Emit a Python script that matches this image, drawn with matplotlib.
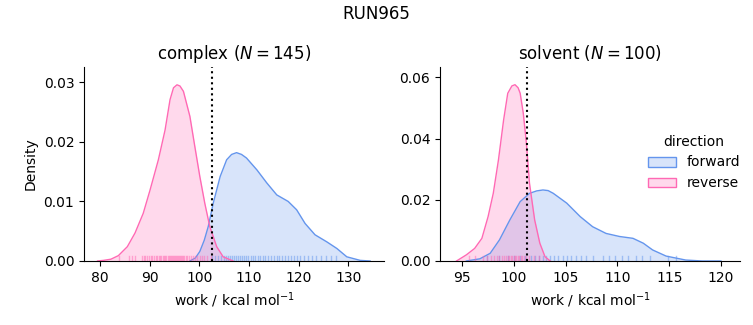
import matplotlib
matplotlib.use("Agg")
import matplotlib.pyplot as plt
import matplotlib.patches as patches

# density curves (work in kcal/mol, density)
complex_fwd_x = [98.1, 99.2, 100.1, 101.0, 101.8, 102.8, 104.2, 105.5, 106.5, 107.5, 108.5, 109.5, 111.6,
                 113.6, 115.6, 117.9, 119.6, 121.3, 123.3, 125.7, 127.7, 129.7, 132.4, 134.4]
complex_fwd_y = [0.0, 0.0005, 0.0016, 0.0035, 0.0058, 0.0097, 0.0142, 0.0170, 0.0179, 0.0182, 0.0179, 0.0173, 0.0153,
                 0.0131, 0.0111, 0.0100, 0.0086, 0.0063, 0.0044, 0.0032, 0.0021, 0.0007, 0.0001, 0.0]
complex_rev_x = [79.5, 80.7, 82.2, 83.7, 85.5, 87.05, 88.7, 90.07, 91.75, 93.1, 94.1, 94.8, 95.5, 96.1,
                 96.8, 98.1, 99.1, 100.1, 101.1, 102.1, 103.5, 104.8, 106.8]
complex_rev_y = [0.0, 0.0001, 0.0003, 0.0009, 0.0024, 0.0047, 0.0080, 0.0119, 0.0170, 0.0220, 0.0271, 0.0291, 0.0296, 0.0294,
                 0.0285, 0.0243, 0.0192, 0.0142, 0.0097, 0.0058, 0.0024, 0.0007, 0.0]

solvent_fwd_x = [95.4, 96.7, 97.7, 98.6, 99.6, 100.6, 101.5, 102.2, 102.8, 103.3, 103.8, 105.1, 106.4,
                 107.6, 108.9, 110.2, 111.5, 112.5, 113.4, 114.7, 116.6, 118.2, 120.0]
solvent_fwd_y = [0.0, 0.0007, 0.0025, 0.0069, 0.0134, 0.0194, 0.0221, 0.0229, 0.0232, 0.0230, 0.0221, 0.0189, 0.0145,
                 0.0112, 0.0090, 0.0080, 0.0074, 0.0058, 0.0036, 0.0016, 0.0003, 0.0, 0.0]
solvent_rev_x = [94.45, 95.4, 96.2, 96.9, 97.5, 98.0, 98.5, 99.0, 99.4, 99.8, 100.1, 100.4, 100.6,
                 100.9, 101.2, 101.5, 102.0, 102.5, 103.0, 103.5]
solvent_rev_y = [0.0, 0.0020, 0.0041, 0.0074, 0.0145, 0.0221, 0.0330, 0.0461, 0.0548, 0.0572, 0.0576, 0.0566, 0.0548,
                 0.0483, 0.0385, 0.0254, 0.0134, 0.0058, 0.0014, 0.0]

# individual work values (rug)
complex_fwd_rug = [102.6, 103.2, 103.8, 104.3, 104.9, 105.3, 105.8, 106.2, 106.6, 107.0, 107.4, 107.8,
                   108.2, 108.6, 109.0, 109.5, 109.9, 110.4, 110.8, 111.3, 111.8, 112.3, 112.8, 113.3,
                   113.9, 114.4, 115.0, 115.6, 116.1, 116.7, 117.2, 117.8, 118.4, 119.0, 119.6, 120.3,
                   121.0, 121.8, 122.6, 123.5, 124.5, 125.6, 126.6, 127.5]
complex_rev_rug = [83.9, 85.9, 86.4, 87.0, 88.5, 88.8, 89.1, 89.4, 89.8, 90.2, 90.5, 90.9, 91.2, 91.5,
                   91.8, 92.0, 92.3, 92.6, 92.8, 93.1, 93.3, 93.6, 93.8, 94.0, 94.2, 94.5, 94.7, 94.9,
                   95.1, 95.3, 95.5, 95.7, 95.9, 96.1, 96.3, 96.5, 96.8, 97.0, 97.3, 97.6, 97.9, 98.3,
                   98.7, 99.2, 99.6, 100.1, 100.6, 101.0, 101.6, 102.3]
solvent_fwd_rug = [97.4, 98.6, 99.4, 100.0, 100.6, 101.1, 101.6, 102.0, 102.4, 102.8, 103.1, 103.5,
                   103.9, 104.3, 104.7, 105.1, 105.5, 106.0, 106.5, 107.0, 107.6, 108.6, 109.2, 109.8,
                   110.4, 111.0, 111.8, 112.4, 113.1, 114.9, 115.7]
solvent_rev_rug = [95.7, 96.2, 97.0, 97.4, 97.8, 98.1, 98.4, 98.6, 98.8, 99.0, 99.2, 99.4, 99.5, 99.7,
                   99.8, 100.0, 100.1, 100.2, 100.4, 100.5, 100.7, 100.8, 101.0, 101.2, 101.5, 101.9, 102.4]

phases = ["complex", "solvent"]
n_samples = [145, 100]
dg = [102.6, 101.3]   # dotted reference line
directions = ["forward", "reverse"]
colors = {"forward": "#6495ED", "reverse": "#FF69B4"}

curves = {
    "complex": {"forward": (complex_fwd_x, complex_fwd_y, complex_fwd_rug),
                "reverse": (complex_rev_x, complex_rev_y, complex_rev_rug)},
    "solvent": {"forward": (solvent_fwd_x, solvent_fwd_y, solvent_fwd_rug),
                "reverse": (solvent_rev_x, solvent_rev_y, solvent_rev_rug)},
}

fig = plt.figure(figsize=(7.53, 3.25), dpi=100)
ax1 = fig.add_axes([0.1116, 0.197, 0.3984, 0.597])
ax2 = fig.add_axes([0.5843, 0.197, 0.3984, 0.597])
axes = [ax1, ax2]

xlims = [(76.78, 137.2), (92.85, 121.84)]
ylims = [(0, 0.0326), (0, 0.0634)]
yticks = [[0.0, 0.01, 0.02, 0.03], [0.0, 0.02, 0.04, 0.06]]
xticks = [[80, 90, 100, 110, 120, 130], [95, 100, 105, 110, 115, 120]]

for i, (ax, phase) in enumerate(zip(axes, phases)):
    for d in directions:
        x, y, rug = curves[phase][d]
        c = colors[d]
        ax.fill_between(x, y, 0, color=c, alpha=0.25, lw=0)
        ax.plot(x, y, color=c, lw=1)
        for r in rug:
            ax.axvline(r, ymin=0, ymax=0.025, color=c, lw=1, alpha=0.5)
    ax.axvline(dg[i], color="black", ls=":", lw=1.5)
    ax.set_xlim(*xlims[i])
    ax.set_ylim(*ylims[i])
    ax.set_xticks(xticks[i])
    ax.set_yticks(yticks[i])
    ax.set_xlabel("work / kcal mol$^{-1}$")
    ax.set_title(f"{phase} ($N = {n_samples[i]}$)", fontsize=12)
    ax.spines["top"].set_visible(False)
    ax.spines["right"].set_visible(False)

ax1.set_ylabel("Density")
fig.suptitle("RUN965", fontsize=12, y=0.985)

handles = [patches.Patch(facecolor=matplotlib.colors.to_rgba(colors[d], 0.25), edgecolor=colors[d])
           for d in directions]
leg = fig.legend(handles, directions, title="direction", loc="center right",
                 bbox_to_anchor=(1.0, 0.5), frameon=False)

fig.savefig("out.png", dpi=100)
